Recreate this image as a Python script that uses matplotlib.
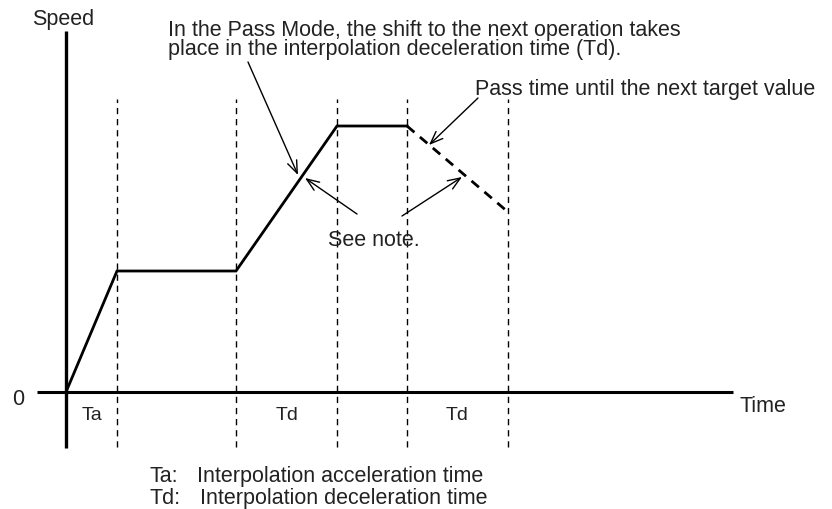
"""Pass Mode speed profile diagram (interpolation accel/decel times)."""

import matplotlib
matplotlib.use("Agg")
import matplotlib.pyplot as plt

# Speed profile (time and speed in drawing units, origin at axes crossing)
time_solid = [0, 51, 170, 271, 341]
speed_solid = [0, 121, 121, 266, 266]
time_pass = [341, 442]
speed_pass = [266, 180]

# dashed guide lines at segment boundaries
boundaries = [51, 170, 271, 341, 442]

# interval labels below the time axis
interval_labels = ["Ta", "Td", "Td"]
interval_centers = [26, 221, 391]

INK = "#222222"
FONT = "Liberation Sans"
FS = 15.5

fig = plt.figure(figsize=(8.32, 5.09), dpi=100)
ax = fig.add_axes([0, 0, 1, 1])
ax.set_xlim(-66, 766)
ax.set_ylim(-117, 392)
ax.axis("off")

# axes
ax.plot([0, 0], [-56, 361], color="black", lw=2.4, solid_capstyle="butt")
ax.plot([-29, 667], [0, 0], color="black", lw=2.2, solid_capstyle="butt")

# boundary guides
for t in boundaries:
    ax.plot([t, t], [-55, 293], color="black", lw=1.0, linestyle=(0, (4.5, 3.5)))

# profile
ax.plot(time_solid, speed_solid, color="black", lw=2.0, solid_joinstyle="miter")
ax.plot(time_pass, speed_pass, color="black", lw=2.0, linestyle=(0, (3.5, 2.6)))

txt = dict(color=INK, fontfamily=FONT, va="baseline")
ax.text(-34, 367, "Speed", fontsize=FS, ha="left", **txt)
ax.text(-48, -13, "0", fontsize=FS, ha="center", **txt)
ax.text(674, -20, "Time", fontsize=FS, ha="left", **txt)

for lab, x in zip(interval_labels, interval_centers):
    ax.text(x, -28, lab, fontsize=14, ha="center", **txt)

ax.text(102, 356, "In the Pass Mode, the shift to the next operation takes",
        fontsize=FS, ha="left", **txt)
ax.text(102, 337, "place in the interpolation deceleration time (Td).",
        fontsize=FS, ha="left", **txt)
ax.text(409, 297, "Pass time until the next target value", fontsize=FS,
        ha="left", **txt)
ax.text(262, 146, "See note.", fontsize=FS, ha="left", **txt)

arrow = dict(arrowstyle="->,head_length=0.9,head_width=0.35", color="black",
             lw=1.0, shrinkA=0, shrinkB=0)
ax.annotate("", xy=(232, 217), xytext=(182, 330), arrowprops=arrow)
ax.annotate("", xy=(239, 214), xytext=(291, 178), arrowprops=arrow)
ax.annotate("", xy=(396, 215), xytext=(336, 176), arrowprops=arrow)
ax.annotate("", xy=(363, 247), xytext=(412, 294), arrowprops=arrow)

# legend of abbreviations
ax.text(84, -90, "Ta:", fontsize=FS, ha="left", **txt)
ax.text(131, -90, "Interpolation acceleration time", fontsize=FS, ha="left", **txt)
ax.text(84, -112, "Td:", fontsize=FS, ha="left", **txt)
ax.text(134, -112, "Interpolation deceleration time", fontsize=FS, ha="left", **txt)

fig.savefig("out.png", dpi=100, facecolor="white")
